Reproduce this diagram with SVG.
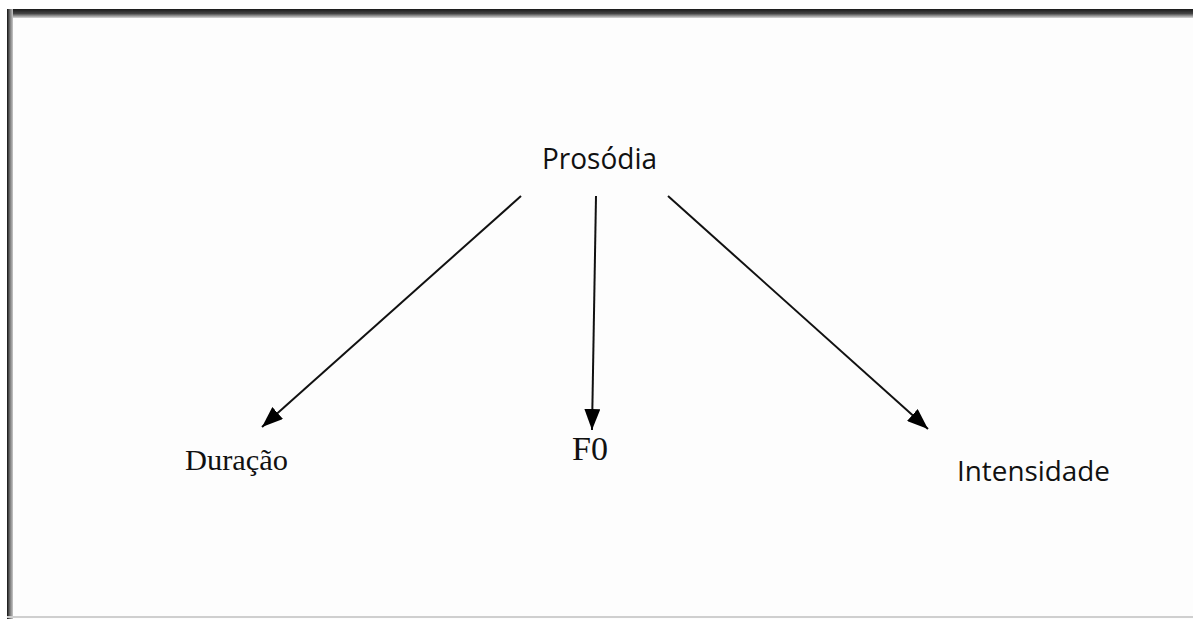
<svg xmlns="http://www.w3.org/2000/svg" width="1193" height="619" viewBox="0 0 1193 619">
  <defs>
    <linearGradient id="topEdge" x1="0" y1="0" x2="0" y2="1">
      <stop offset="0" stop-color="#1a1a1a"/>
      <stop offset="0.5" stop-color="#444"/>
      <stop offset="1" stop-color="#d8d8d8"/>
    </linearGradient>
    <linearGradient id="leftEdge" x1="0" y1="0" x2="1" y2="0">
      <stop offset="0" stop-color="#111"/>
      <stop offset="0.5" stop-color="#777"/>
      <stop offset="1" stop-color="#c8c8c8"/>
    </linearGradient>
    <marker id="head" viewBox="0 0 21 16" refX="21" refY="8" markerWidth="21" markerHeight="16" markerUnits="userSpaceOnUse" orient="auto">
      <path d="M0,0 L21,8 L0,16 z" fill="#000"/>
    </marker>
    <style>
      .sans { font-family: "Open Sans", "Liberation Sans", sans-serif; fill: #111; }
      .serif { font-family: "Liberation Serif", "DejaVu Serif", serif; fill: #111; }
      .link { stroke: #111; stroke-width: 2; fill: none; marker-end: url(#head); }
    </style>
  </defs>

  <!-- page frame -->
  <rect x="0" y="0" width="1193" height="619" fill="#ffffff"/>
  <rect x="7" y="9" width="1186" height="610" fill="#fdfdfd"/>
  <rect x="7" y="9" width="1186" height="9" fill="url(#topEdge)"/>
  <rect x="7" y="9" width="6" height="610" fill="url(#leftEdge)"/>
  <rect x="7" y="616" width="1186" height="2" fill="#cfcfcf"/>

  <!-- connectors -->
  <g id="connectors">
    <line class="link" x1="521" y1="196" x2="262" y2="427"/>
    <line class="link" x1="596" y1="196" x2="592" y2="430"/>
    <line class="link" x1="668" y1="196" x2="928" y2="429"/>
  </g>

  <!-- nodes -->
  <g id="prosodia">
    <text class="sans" x="542" y="169" font-size="29" textLength="115" lengthAdjust="spacingAndGlyphs">Prosódia</text>
  </g>
  <g id="duracao">
    <text class="serif" x="185" y="470" font-size="30" textLength="103" lengthAdjust="spacingAndGlyphs">Duração</text>
  </g>
  <g id="f0">
    <text class="serif" x="572" y="460" font-size="34" textLength="36" lengthAdjust="spacingAndGlyphs">F0</text>
  </g>
  <g id="intensidade">
    <text class="sans" x="957" y="481" font-size="28" textLength="153" lengthAdjust="spacingAndGlyphs">Intensidade</text>
  </g>
</svg>
